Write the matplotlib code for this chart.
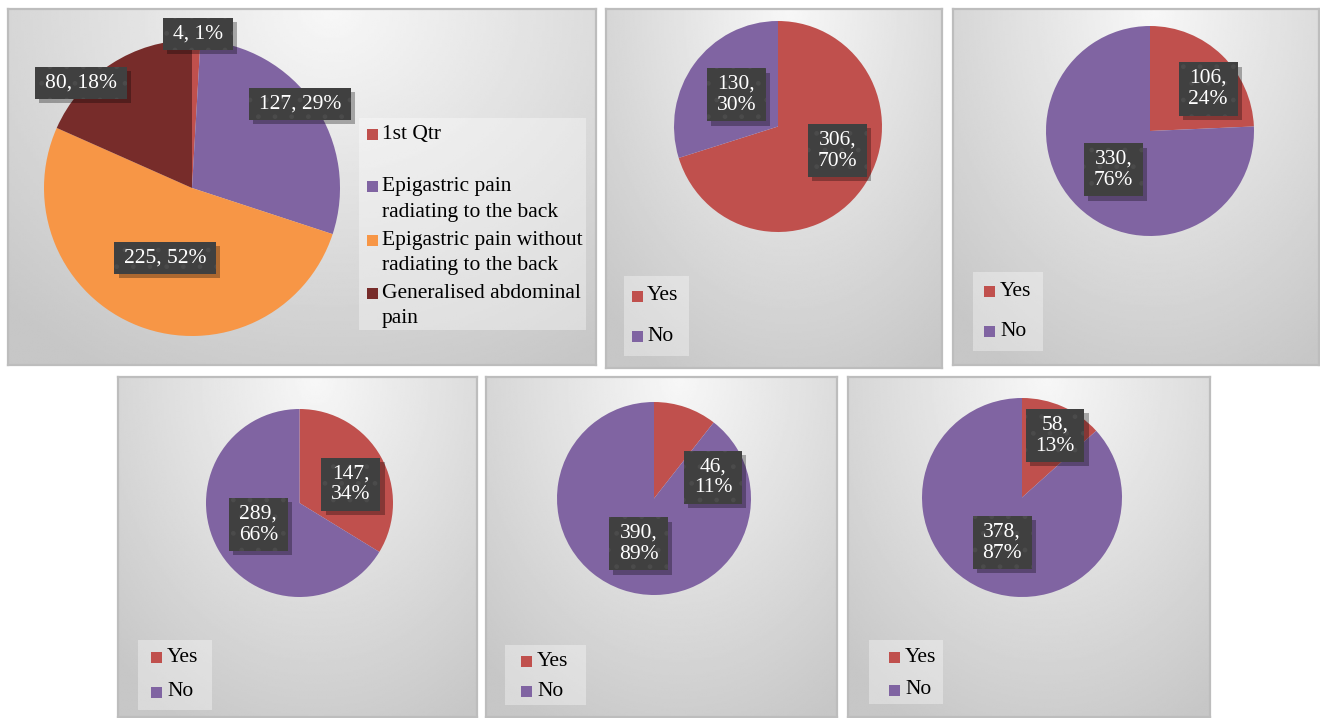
"""Six pie charts of pain site and yes/no answers, Excel-style panels."""

import textwrap

import numpy as np
import matplotlib
matplotlib.use("Agg")
import matplotlib.pyplot as plt
import matplotlib.patheffects as pe
from matplotlib.patches import Rectangle
from matplotlib.path import Path

plt.rcParams["font.family"] = ["Liberation Serif", "DejaVu Serif"]

W, H = 1320, 718
RED = "#C0504D"
PURPLE = "#8064A2"
ORANGE = "#F79646"
MAROON = "#772C2A"
FS = 15.5

# data
pain_labels = ["1st Qtr", "Epigastric pain radiating to the back",
               "Epigastric pain without radiating to the back",
               "Generalised abdominal pain"]
pain_counts = [4, 127, 225, 80]
pain_colors = [RED, PURPLE, ORANGE, MAROON]

answer_labels = ["Yes", "No"]
answer_colors = [RED, PURPLE]
yes_counts = [306, 106, 147, 46, 58]
no_counts = [130, 330, 289, 390, 378]

# layout, in pixels (left, top, right, bottom)
panel_boxes = [(8, 9, 596, 365), (606, 9, 942, 368), (953, 9, 1319, 365),
               (118, 377, 477, 717), (486, 377, 837, 717), (848, 377, 1210, 717)]
pie_boxes = [(44, 40, 340, 336), (674, 21, 882, 232), (1046, 26, 1254, 236),
             (206, 409, 393, 597), (557, 402, 751, 595), (922, 398, 1122, 597)]
# label centres relative to the pie (radius = 1)
label_offsets = [
    [(0.04, 1.04), (0.73, 0.57), (-0.18, -0.47), (-0.75, 0.71)],
    [(0.57, -0.23), (-0.40, 0.30)],
    [(0.56, 0.40), (-0.35, -0.37)],
    [(0.55, 0.20), (-0.44, -0.23)],
    [(0.61, 0.22), (-0.16, -0.47)],
    [(0.33, 0.62), (-0.20, -0.455)],
]
# legend box, centre y of each entry, marker left, text left
legend_layout = [
    ((359, 118, 586, 330), [134, 186.5, 240, 293], 367, 382),
    ((624, 276, 689, 356), [296, 336.5], 632, 647),
    ((973, 272, 1043, 351), [291, 331.5], 984, 1000),
    ((138, 640, 212, 710), [657, 692], 151, 167),
    ((505, 645, 586, 705), [661, 691], 521, 537),
    ((869, 640, 943, 704), [657, 690], 889, 905),
]


def fig_rect(box):
    x0, y0, x1, y1 = box
    return [x0 / W, 1 - y1 / H, (x1 - x0) / W, (y1 - y0) / H]


def label_box(x0, y0, width, height, mutation_size):
    px, py = 0.45 * mutation_size, 0.3 * mutation_size
    x0, y0 = x0 - px, y0 - py
    x1, y1 = x0 + width + 2 * px, y0 + height + 2 * py
    return Path([(x0, y0), (x1, y0), (x1, y1), (x0, y1), (x0, y0)], closed=True)


def panel_background(box):
    ax = fig.add_axes(fig_rect(box), zorder=0)
    x = np.linspace(0, 1, 200)
    X, Y = np.meshgrid(x, x)
    d = np.sqrt(((X - 0.55) / 0.8) ** 2 + ((Y - 1.0) / 1.15) ** 2)
    g = 0.97 - 0.19 * np.clip(d, 0, 1)
    ax.imshow(g, cmap="gray", vmin=0, vmax=1, extent=(0, 1, 0, 1),
              origin="lower", aspect="auto", interpolation="bilinear")
    ax.set_xticks([])
    ax.set_yticks([])
    for s in ax.spines.values():
        s.set_color("#BDBDBD")
        s.set_linewidth(1.6)


def draw_pie(box, values, colors, texts, offsets):
    ax = fig.add_axes(fig_rect(box), zorder=1)
    ax.pie(values, colors=colors, startangle=90, counterclock=False,
           wedgeprops=dict(linewidth=0))
    ax.set_aspect("auto")
    ax.set_xlim(-1, 1)
    ax.set_ylim(-1, 1)
    for txt, (ox, oy) in zip(texts, offsets):
        t = ax.text(ox, oy, txt, ha="center", va="center", fontsize=FS,
                    color="white", linespacing=1.15, clip_on=False, zorder=5,
                    bbox=dict(boxstyle=label_box, facecolor="#404040",
                              edgecolor="#4b4b4b", linewidth=0, hatch="."))
        # drop shadow without the dot pattern
        t.get_bbox_patch().set_path_effects(
            [pe.SimplePatchShadow(offset=(3, -3), shadow_rgbFace="black",
                                  alpha=0.3, hatch=None), pe.Normal()])


def draw_legend(layout, labels, colors, wrap=None):
    (bx0, by0, bx1, by1), ys, mx, tx = layout
    ov.add_patch(Rectangle((bx0, by0), bx1 - bx0, by1 - by0,
                           facecolor="white", alpha=0.35, linewidth=0))
    for lab, col, y in zip(labels, colors, ys):
        ov.add_patch(Rectangle((mx, y - 5.5), 11, 11, facecolor=col,
                               linewidth=0))
        lines = textwrap.wrap(lab, wrap) if wrap else [lab]
        for i, line in enumerate(lines):
            ov.text(tx, y + i * 25.5, line, ha="left", va="center",
                    fontsize=FS, color="black")


fig = plt.figure(figsize=(W / 100, H / 100), dpi=100)
fig.patch.set_facecolor("white")

ov = fig.add_axes([0, 0, 1, 1], zorder=3)
ov.set_xlim(0, W)
ov.set_ylim(H, 0)
ov.axis("off")

for box in panel_boxes:
    panel_background(box)

total = sum(pain_counts)
pain_texts = [f"{c}, {round(100 * c / total)}%" for c in pain_counts]
draw_pie(pie_boxes[0], pain_counts, pain_colors, pain_texts, label_offsets[0])
draw_legend(legend_layout[0], pain_labels, pain_colors, wrap=23)

for i, (yes, no) in enumerate(zip(yes_counts, no_counts), start=1):
    vals = [yes, no]
    tot = yes + no
    texts = [f"{v},\n{round(100 * v / tot)}%" for v in vals]
    draw_pie(pie_boxes[i], vals, answer_colors, texts, label_offsets[i])
    draw_legend(legend_layout[i], answer_labels, answer_colors)

fig.savefig("out.png", dpi=100)
